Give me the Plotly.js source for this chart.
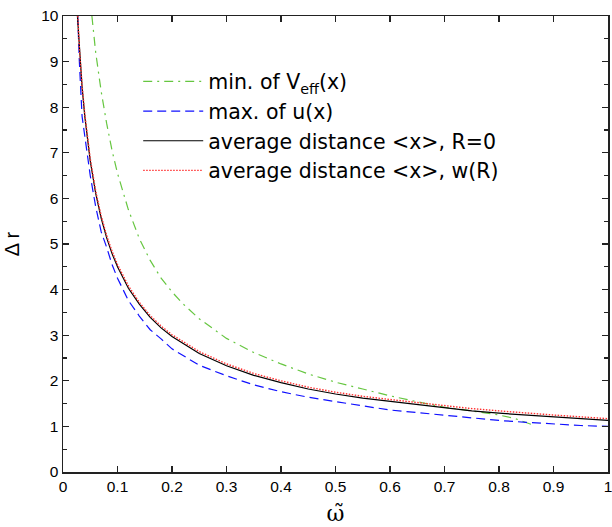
<!DOCTYPE html>
<html>
<head>
<meta charset="utf-8">
<script src="https://cdn.plot.ly/plotly-3.0.1.min.js"></script>
<style>html,body{margin:0;padding:0;background:#fff;}</style>
</head>
<body>
<div id="chart" style="width:612px;height:527px;"></div>
<script>
// ---- data ----
const seriesNames = [
  "min. of V<sub>eff</sub>(x)",
  "max. of u(x)",
  "average distance <x>, R=0",
  "average distance <x>, w(R)"
];

const greenX = [0.053,0.06,0.07,0.08,0.09,0.1,0.12,0.14,0.16,0.18,0.2,0.22,0.25,0.3,0.35,0.4,0.45,0.5,0.55,0.6,0.65,0.7,0.75,0.8,0.83,0.85,0.865];
const greenY = [10,9.2,8.35,7.65,7.05,6.55,5.75,5.12,4.64,4.25,3.95,3.69,3.36,2.93,2.62,2.37,2.15,1.97,1.82,1.67,1.54,1.42,1.34,1.25,1.17,1.09,1.02];

const blueX = [0.027,0.03,0.035,0.04,0.05,0.06,0.07,0.08,0.09,0.1,0.12,0.14,0.16,0.18,0.2,0.25,0.3,0.35,0.4,0.45,0.5,0.55,0.6,0.65,0.7,0.75,0.8,0.85,0.9,0.95,1.0];
const blueY = [10,9.0,7.8,7.4,6.5,5.82,5.27,4.93,4.55,4.25,3.76,3.42,3.12,2.92,2.70,2.34,2.11,1.91,1.76,1.64,1.54,1.45,1.36,1.30,1.24,1.18,1.13,1.09,1.05,1.02,1.0];

const blackX = [0.0265,0.03,0.035,0.04,0.05,0.06,0.07,0.08,0.09,0.1,0.12,0.14,0.16,0.18,0.2,0.25,0.3,0.35,0.4,0.45,0.5,0.55,0.6,0.65,0.7,0.75,0.8,0.85,0.9,0.95,1.0];
const blackY = [10,9.27,8.44,7.80,6.82,6.11,5.57,5.14,4.79,4.50,4.03,3.68,3.39,3.16,2.97,2.60,2.33,2.12,1.96,1.82,1.71,1.62,1.55,1.47,1.40,1.34,1.29,1.25,1.20,1.17,1.13];

const redX = [0.0272,0.03,0.035,0.04,0.05,0.06,0.07,0.08,0.09,0.1,0.12,0.14,0.16,0.18,0.2,0.25,0.3,0.35,0.4,0.45,0.5,0.55,0.6,0.65,0.7,0.75,0.8,0.85,0.9,0.95,1.0];
const redY = [10,9.3,8.48,7.85,6.87,6.16,5.62,5.19,4.84,4.55,4.08,3.72,3.43,3.20,3.01,2.64,2.37,2.16,2.00,1.86,1.75,1.66,1.59,1.52,1.45,1.39,1.34,1.29,1.25,1.21,1.17];

const xTickVals = [0,0.1,0.2,0.3,0.4,0.5,0.6,0.7,0.8,0.9,1];
const xTickText = ["0","0.1","0.2","0.3","0.4","0.5","0.6","0.7","0.8","0.9","1"];
const yTickVals = [0,1,2,3,4,5,6,7,8,9,10];
const yTickText = ["0","1","2","3","4","5","6","7","8","9","10"];

const traces = [
  {x: greenX, y: greenY, name: seriesNames[0], mode: "lines",
   line: {color: "#66c640", width: 1.2, dash: "9px,5px,2px,5px"}},
  {x: blueX, y: blueY, name: seriesNames[1], mode: "lines",
   line: {color: "#1010ff", width: 1.2, dash: "9px,5px"}},
  {x: blackX, y: blackY, name: seriesNames[2], mode: "lines",
   line: {color: "#000000", width: 1.2}},
  {x: redX, y: redY, name: seriesNames[3], mode: "lines",
   line: {color: "#ff3030", width: 1.4, dash: "1.5px,1.5px"}}
];

const axisCommon = {
  showgrid: false, zeroline: false, showline: true, mirror: "allticks",
  linecolor: "#222", linewidth: 1.5,
  ticks: "inside", ticklen: 6, tickwidth: 1.2, tickcolor: "#222",
  ticklabeloverflow: "allow",
  tickfont: {family: "Liberation Sans, Arial, sans-serif", size: 15.5, color: "#000"}
};

const layout = {
  width: 612, height: 527,
  margin: {l: 63, r: 4, t: 16, b: 55},
  paper_bgcolor: "#fff", plot_bgcolor: "#fff",
  showlegend: true,
  legend: {
    x: 0.138, y: 0.90, xanchor: "left", yanchor: "top",
    bgcolor: "rgba(0,0,0,0)", borderwidth: 0,
    itemwidth: 60,
    font: {family: "DejaVu Sans, sans-serif", size: 20.5, color: "#000"},
    tracegroupgap: 0
  },
  xaxis: Object.assign({}, axisCommon, {
    range: [0, 1], tickmode: "array", tickvals: xTickVals, ticktext: xTickText,
    title: {text: "ω̃", font: {family: "DejaVu Serif, serif", size: 22, color: "#000"}, standoff: 11}
  }),
  yaxis: Object.assign({}, axisCommon, {
    range: [0, 10], tickmode: "array", tickvals: yTickVals, ticktext: yTickText,
    minor: {dtick: 0.5, ticks: "inside", ticklen: 4, tickwidth: 1.2, tickcolor: "#222"},
    title: {text: "Δ r", font: {family: "Liberation Sans, Arial, sans-serif", size: 20, color: "#000"}, standoff: 16}
  })
};

Plotly.newPlot("chart", traces, layout, {displayModeBar: false, staticPlot: true});
</script>
</body>
</html>
